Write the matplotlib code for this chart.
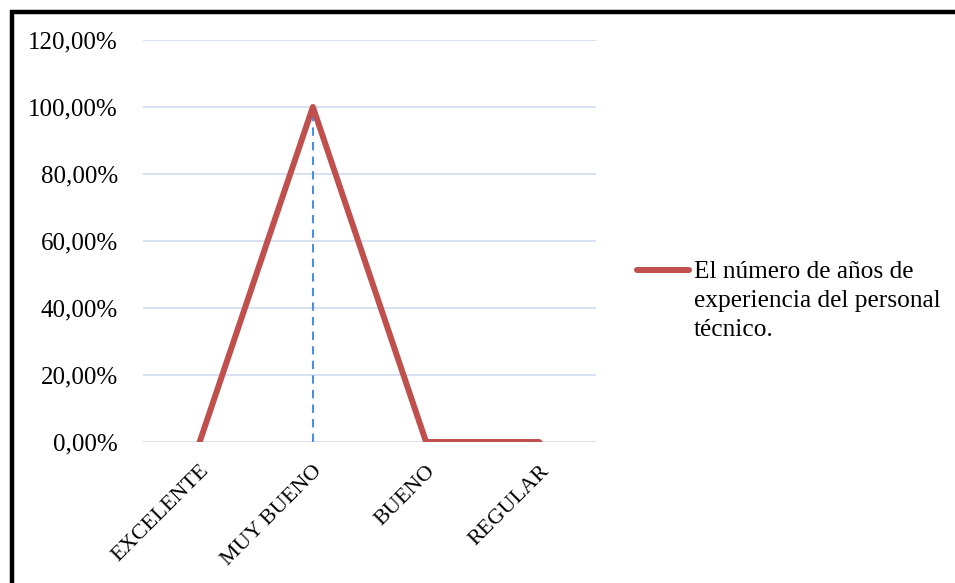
import matplotlib
matplotlib.use("Agg")
import matplotlib.pyplot as plt
from matplotlib.lines import Line2D

categories = ["EXCELENTE", "MUY BUENO", "BUENO", "REGULAR"]
values = [0.0, 100.0, 0.0, 0.0]
yticks = [0, 20, 40, 60, 80, 100, 120]
ytick_labels = ["0,00%", "20,00%", "40,00%", "60,00%", "80,00%", "100,00%", "120,00%"]
series_name = "El número de años de\nexperiencia del personal\ntécnico."

plt.rcParams["font.family"] = ["Liberation Serif", "DejaVu Serif"]

W, H = 955, 583
fig = plt.figure(figsize=(W / 100, H / 100), dpi=100)
ax = fig.add_axes([143 / W, 1 - 442 / H, (596 - 143) / W, (442 - 40) / H])

x = [i + 0.5 for i in range(len(categories))]
line_color = "#C0504D"
line_width = 4.3
ax.plot(x, values, color=line_color, lw=line_width, solid_capstyle="round",
        solid_joinstyle="round", zorder=3)

# drop line from the peak to the axis
peak = values.index(max(values))
ax.vlines(x[peak], 0, values[peak], colors="#4A8FE0", linestyles=(0, (4, 3)),
          lw=1.5, zorder=2)

ax.set_xlim(0, len(categories))
ax.set_ylim(0, 120)
ax.set_yticks(yticks)
ax.set_yticklabels(ytick_labels, fontsize=18)
ax.set_xticks(x)
ax.set_xticklabels(categories, rotation=45, ha="right", va="top",
                   rotation_mode="anchor", fontsize=16)
ax.tick_params(axis="both", length=0)
ax.tick_params(axis="y", pad=18)
ax.tick_params(axis="x", pad=14)
ax.grid(axis="y", color="#D6E1F1", lw=1.4)
ax.set_axisbelow(True)
for s in ax.spines.values():
    s.set_visible(False)

# legend: sample line beside the first line of the series name
fig.add_artist(Line2D([637 / W, 689 / W], [1 - 270 / H, 1 - 270 / H],
                      transform=fig.transFigure, color=line_color,
                      lw=line_width, solid_capstyle="round"))
fig.text(694 / W, 1 - 261 / H, series_name, fontsize=18.3, va="top",
         ha="left", linespacing=1.42)

# black frame on top and left
fig.add_artist(Line2D([10 / W, 1.0], [1 - 11.5 / H, 1 - 11.5 / H],
                      transform=fig.transFigure, color="black", lw=3.2,
                      solid_capstyle="butt"))
fig.add_artist(Line2D([12 / W, 12 / W], [1 - 10 / H, 0],
                      transform=fig.transFigure, color="black", lw=3.2,
                      solid_capstyle="butt"))

fig.savefig("out.png", dpi=100)
